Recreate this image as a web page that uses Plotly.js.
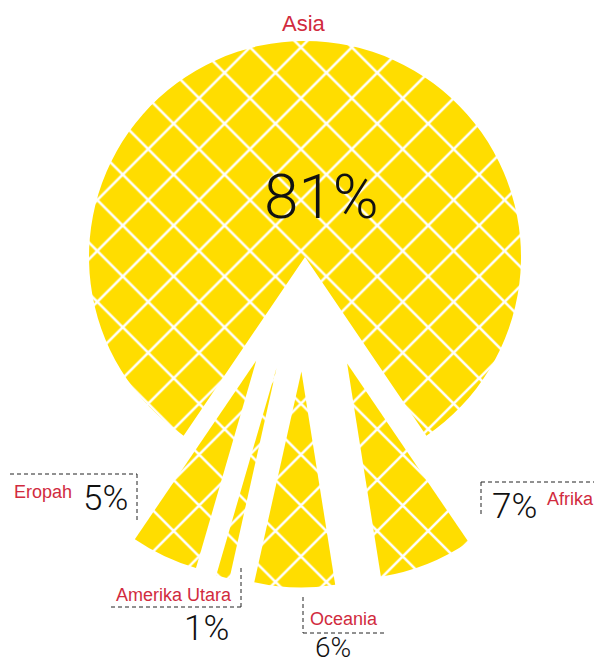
<!DOCTYPE html>
<html><head><meta charset="utf-8">
<script src="https://cdn.plot.ly/plotly-3.0.1.min.js"></script>
<style>
html,body{margin:0;padding:0;overflow:hidden;width:594px;height:666px;background:#fff}
#chart{position:absolute;left:-30px;top:-80px;width:700px;height:760px}
</style>
</head><body><div id="chart"></div>
<script>
// ---- data ----
const regions = ['Asia', 'Afrika', 'Oceania', 'Amerika Utara', 'Eropah'];
const shares  = [81, 7, 6, 1, 5];

// ---- layout helpers (window pixels -> paper fractions of the larger div) ----
const W = 700, H = 760, L = 30, T = 80;
const px = x => (x + L) / W;
const py = y => 1 - (y + T) / H;
const cx = 305, cy = 257, R = 216, PULL = 0.53;
const half = R * (1 + PULL);
const yellow = '#FFDD00', red = '#D12B3E';
const total = shares.reduce((a, b) => a + b, 0);

const trace = {
  type: 'pie', labels: regions, values: shares, sort: false, direction: 'clockwise',
  rotation: -shares[0] / total * 180,
  pull: regions.map((r, i) => i === 0 ? 0 : PULL),
  marker: {
    colors: regions.map(() => yellow), line: {width: 0},
    pattern: {shape: 'x', fgcolor: '#ffffff', fgopacity: 1, bgcolor: yellow, size: 36, solidity: 0.14, fillmode: 'replace'}
  },
  textinfo: 'none', hoverinfo: 'label+percent', showlegend: false,
  domain: {x: [px(cx - half), px(cx + half)], y: [py(cy + half), py(cy - half)]}
};

const labFont = {family: 'Liberation Sans, Arial, sans-serif', size: 18, color: red};
const pctFont = {family: 'Roboto, Liberation Sans, sans-serif', size: 35, color: '#111', weight: 300};

function ann(text, x, y, font) {
  return {text: text, x: px(x), y: py(y), xref: 'paper', yref: 'paper',
          xanchor: 'center', yanchor: 'middle', showarrow: false, font: font};
}
const annotations = [
  ann(regions[0], 304, 23.5, Object.assign({}, labFont, {size: 22})),
  ann(shares[0] + '%', 321, 196, Object.assign({}, pctFont, {size: 62})),
  ann(regions[4], 42.5, 491.5, labFont),
  ann(shares[4] + '%', 105, 498.5, pctFont),
  ann(regions[3], 174, 594.5, labFont),
  ann(shares[3] + '%', 206, 628.5, pctFont),
  ann(regions[2], 344, 619, labFont),
  ann(shares[2] + '%', 333, 647, Object.assign({}, pctFont, {size: 28})),
  ann(shares[1] + '%', 514, 506.5, pctFont),
  ann(regions[1], 570, 499, labFont)
];

function seg(x0, y0, x1, y1) {
  return {type: 'line', xref: 'paper', yref: 'paper', x0: px(x0), y0: py(y0), x1: px(x1), y1: py(y1),
          line: {color: '#222', width: 1, dash: '4px,3px'}};
}
const shapes = [
  seg(10, 474, 137, 474), seg(137, 474, 137, 522),
  seg(241, 568, 241, 607), seg(111, 607, 241, 607),
  seg(303, 597, 303, 633), seg(303, 633, 386, 633),
  seg(481, 482, 481, 517), seg(481, 482, 600, 482)
];

Plotly.newPlot('chart', [trace], {
  width: W, height: H, margin: {l: 0, r: 0, t: 0, b: 0},
  paper_bgcolor: '#fff', showlegend: false,
  annotations: annotations, shapes: shapes
}, {displayModeBar: false, staticPlot: true});
</script>
</body></html>
